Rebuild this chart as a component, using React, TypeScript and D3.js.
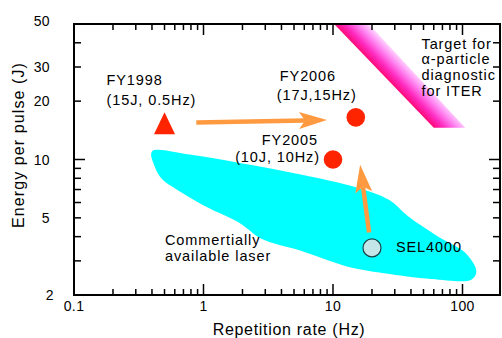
import React, { useEffect, useRef } from 'react';
import * as d3 from 'd3';

// axis ticks / labels
const xTickLabels = [0.1, 1, 10, 100];
const yTickLabels = [2, 5, 10, 20, 30, 50];

// commercially available laser region outline (Hz, J)
const laserRegionHz = [0.4, 0.78, 1.9, 5.5, 15, 27, 38, 65, 105, 128, 117, 58, 24, 13, 5.5, 2.8, 1.9, 1.05, 0.62, 0.48, 0.42];
const laserRegionJ = [11, 10.6, 9.6, 8.4, 7.2, 6.2, 5.1, 4.0, 3.3, 2.65, 2.4, 2.42, 2.6, 2.8, 3.4, 3.9, 4.7, 5.7, 7.0, 7.9, 9.2];

// ITER target band: left edge and right edge (Hz at J=50, Hz at J=14.6)
const targetJ = [50, 14.6];
const targetLeftHz = [10.2, 60];
const targetRightHz = [18.9, 105];

// milestones
const milestoneNames = ['FY1998', 'FY2005', 'FY2006'];
const milestoneHz = [0.5, 10, 15];
const milestoneJ = [15, 10, 16.5];
const sel4000 = { hz: 20, j: 3.5 };

// progress arrows [fromHz, fromJ, toHz, toJ]
const arrowFromHz = [0.88, 19];
const arrowFromJ = [15.5, 4.2];
const arrowToHz = [9.0, 16.2];
const arrowToJ = [16, 9.4];

const FONT = "'Liberation Sans', Arial, Helvetica, sans-serif";

export default function App() {
  const ref = useRef<SVGSVGElement>(null);

  useEffect(() => {
    const svg = d3.select(ref.current);
    svg.selectAll('*').remove();
    const W = 502, H = 338;
    const m = { left: 74, right: 500, top: 24, bottom: 295 };

    const x = d3.scaleLog().domain([0.1, 194.8]).range([m.left, m.right]);
    const y = d3.scaleLog().domain([2, 50]).range([m.bottom, m.top]);

    svg.append('rect').attr('width', W).attr('height', H).attr('fill', '#fff');

    const defs = svg.append('defs');
    defs.append('clipPath').attr('id', 'plotclip')
      .append('rect').attr('x', m.left).attr('y', m.top)
      .attr('width', m.right - m.left).attr('height', m.bottom - m.top);

    // gradient across the target band (perpendicular to it)
    const p0: [number, number] = [x(targetLeftHz[0]), y(targetJ[0])];
    const p1: [number, number] = [x(targetLeftHz[1]), y(targetJ[1])];
    const q0: [number, number] = [x(targetRightHz[0]), y(targetJ[0])];
    const dx = p1[0] - p0[0], dy = p1[1] - p0[1];
    const len = Math.hypot(dx, dy);
    const ux = dx / len, uy = dy / len;
    const t = (q0[0] - p0[0]) * ux + (q0[1] - p0[1]) * uy;
    const foot = [p0[0] + ux * t, p0[1] + uy * t];
    const grad = defs.append('linearGradient').attr('id', 'bandgrad')
      .attr('gradientUnits', 'userSpaceOnUse')
      .attr('x1', foot[0]).attr('y1', foot[1]).attr('x2', q0[0]).attr('y2', q0[1]);
    grad.append('stop').attr('offset', 0).attr('stop-color', '#ff0a78');
    grad.append('stop').attr('offset', 0.3).attr('stop-color', '#ff2ac0');
    grad.append('stop').attr('offset', 0.65).attr('stop-color', '#ff80f0');
    grad.append('stop').attr('offset', 1).attr('stop-color', '#ffd8ff');

    const plot = svg.append('g').attr('clip-path', 'url(#plotclip)');

    // laser region
    const region = laserRegionHz.map((h, i) => [x(h), y(laserRegionJ[i])] as [number, number]);
    plot.append('path')
      .attr('d', d3.line().curve(d3.curveCatmullRomClosed.alpha(0.5))(region))
      .attr('fill', '#00ffff');

    // target band
    const band: [number, number][] = [
      [x(targetLeftHz[0]), y(targetJ[0])],
      [x(targetRightHz[0]), y(targetJ[0])],
      [x(targetRightHz[1]), y(targetJ[1])],
      [x(targetLeftHz[1]), y(targetJ[1])],
    ];
    plot.append('path').attr('d', d3.line()(band) + 'Z').attr('fill', 'url(#bandgrad)');

    // frame + ticks
    const g = svg.append('g').attr('stroke', '#000');
    const xMinor: number[] = [];
    [0.1, 1, 10, 100].forEach(dec => { for (let k = 1; k <= 9; k++) if (dec * k <= 194.8) xMinor.push(dec * k); });
    xMinor.forEach(v => {
      const major = xTickLabels.includes(v);
      const l = major ? 11 : 6;
      g.append('line').attr('x1', x(v)).attr('x2', x(v)).attr('y1', m.bottom).attr('y2', m.bottom - l).attr('stroke-width', 1.5);
      g.append('line').attr('x1', x(v)).attr('x2', x(v)).attr('y1', m.top).attr('y2', m.top + l).attr('stroke-width', 1.5);
    });
    const yMinor: number[] = [];
    [1, 10].forEach(dec => { for (let k = 1; k <= 9; k++) { const v = dec * k; if (v >= 2 && v <= 50) yMinor.push(v); } });
    yMinor.forEach(v => {
      const l = v === 10 ? 11 : 7;
      g.append('line').attr('x1', m.left).attr('x2', m.left + l).attr('y1', y(v)).attr('y2', y(v)).attr('stroke-width', 1.5);
      g.append('line').attr('x1', m.right).attr('x2', m.right - l).attr('y1', y(v)).attr('y2', y(v)).attr('stroke-width', 1.5);
    });
    g.append('rect').attr('x', m.left).attr('y', m.top)
      .attr('width', m.right - m.left).attr('height', m.bottom - m.top)
      .attr('fill', 'none').attr('stroke-width', 2);

    const txt = svg.append('g').attr('font-family', FONT).attr('fill', '#000');

    // tick labels
    txt.selectAll('.xl').data(xTickLabels).enter().append('text')
      .attr('x', d => x(d)).attr('y', 310.5).attr('text-anchor', 'middle')
      .attr('font-size', 14).attr('letter-spacing', 0.4).text(d => String(d));
    txt.selectAll('.yl').data(yTickLabels).enter().append('text')
      .attr('x', d => (d === 2 ? 54 : 50)).attr('y', d => y(d) + (d === 50 ? -3 : 0))
      .attr('dy', '0.36em').attr('text-anchor', 'end')
      .attr('font-size', 14).attr('letter-spacing', 0.4).text(d => String(d));

    // axis titles
    txt.append('text').attr('x', (m.left + m.right) / 2 + 2).attr('y', 335)
      .attr('text-anchor', 'middle').attr('font-size', 16).attr('letter-spacing', 0.7)
      .text('Repetition rate (Hz)');
    txt.append('text').attr('transform', 'translate(23.5,145) rotate(-90)')
      .attr('text-anchor', 'middle').attr('font-size', 16).attr('letter-spacing', 1.1)
      .text('Energy per pulse (J)');

    // arrows
    arrowFromHz.forEach((fh, i) => {
      const s = [x(fh), y(arrowFromJ[i])];
      const e = [x(arrowToHz[i]), y(arrowToJ[i])];
      const L = Math.hypot(e[0] - s[0], e[1] - s[1]);
      const u = [(e[0] - s[0]) / L, (e[1] - s[1]) / L];
      const n = [-u[1], u[0]];
      const hl = 28, hw = 8.5, notch = 6;
      const nb = [e[0] - u[0] * (hl - notch), e[1] - u[1] * (hl - notch)];
      svg.append('line').attr('x1', s[0]).attr('y1', s[1]).attr('x2', nb[0]).attr('y2', nb[1])
        .attr('stroke', '#ff9a40').attr('stroke-width', 4.5);
      const head = [
        e,
        [e[0] - u[0] * hl + n[0] * hw, e[1] - u[1] * hl + n[1] * hw],
        nb,
        [e[0] - u[0] * hl - n[0] * hw, e[1] - u[1] * hl - n[1] * hw],
      ] as [number, number][];
      svg.append('path').attr('d', d3.line()(head) + 'Z').attr('fill', '#ff9a40');
    });

    // milestones
    milestoneNames.forEach((nm, i) => {
      const cx = x(milestoneHz[i]), cy = y(milestoneJ[i]);
      if (i === 0) {
        svg.append('path')
          .attr('d', `M${cx},${cy - 13}L${cx + 10.5},${cy + 9}L${cx - 10.5},${cy + 9}Z`)
          .attr('fill', '#ff2400');
      } else {
        svg.append('circle').attr('cx', cx).attr('cy', cy).attr('r', 9.3).attr('fill', '#ff2400');
      }
    });
    svg.append('circle').attr('cx', x(sel4000.hz)).attr('cy', y(sel4000.j)).attr('r', 9)
      .attr('fill', '#c3e6e8').attr('stroke', '#1d4548').attr('stroke-width', 1.2);

    // annotations
    const ann = (s: string, px: number, py: number, anchor = 'start') =>
      txt.append('text').attr('x', px).attr('y', py).attr('text-anchor', anchor)
        .attr('font-size', 14.5).attr('letter-spacing', 0.9).text(s);

    const fx0 = x(milestoneHz[0]), fy0 = y(milestoneJ[0]);
    ann('FY1998', fx0 - 58, fy0 - 40);
    ann('(15J, 0.5Hz)', fx0 - 58, fy0 - 20);
    const fx1 = x(milestoneHz[1]), fy1 = y(milestoneJ[1]);
    ann('FY2005', fx1 - 15, fy1 - 15, 'end');
    ann('(10J, 10Hz)', fx1 - 13, fy1 + 2, 'end');
    const fx2 = x(milestoneHz[2]), fy2 = y(milestoneJ[2]);
    ann('FY2006', fx2 - 76, fy2 - 36);
    ann('(17J,15Hz)', fx2 - 79, fy2 - 17);
    ann('SEL4000', x(sel4000.hz) + 24, y(sel4000.j) + 4);
    ann('Commertially', 165, 245);
    ann('available laser', 165, 260.5);
    ['Target for', 'α-particle', 'diagnostic', 'for ITER'].forEach((s, i) => ann(s, 421.5, 48.5 + i * 15.8));
  }, []);

  return (
    <svg ref={ref} width={502} height={338}
      style={{ position: 'absolute', left: 0, top: 0, display: 'block' }} />
  );
}
